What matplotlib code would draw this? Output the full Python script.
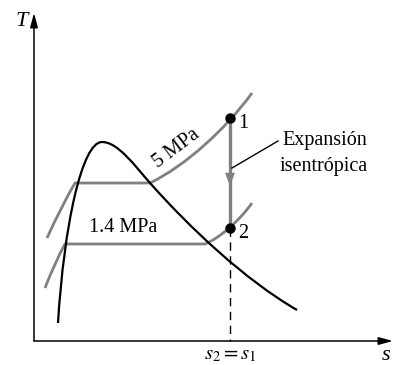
import numpy as np
import matplotlib.pyplot as plt
from matplotlib.patches import FancyArrowPatch, PathPatch
from matplotlib.path import Path

plt.rcParams['font.family'] = ['Liberation Serif', 'DejaVu Serif']
plt.rcParams['mathtext.fontset'] = 'stix'

# Schematic T-s diagram on a 400x365 canvas (y grows downward).
# Curves are given as Bezier vertices (end point, control, control, end point, ...)
dome_s = [58, 64, 82, 102, 118, 135, 150, 190, 245, 297]
dome_T = [323, 225, 142, 142, 142, 166, 183, 228, 280, 310]
dome_codes = ['M', 'C', 'C', 'C', 'C', 'C', 'C', 'C', 'C', 'C']

p5_s = [47, 62, 75, 150, 185, 225, 252]
p5_T = [238, 205, 183, 183, 166, 130, 93]
p5_codes = ['M', 'Q', 'Q', 'L', 'C', 'C', 'C']

p14_s = [45, 55, 65, 205, 220, 240, 252]
p14_T = [288, 262, 244, 244, 238, 220, 203]
p14_codes = ['M', 'Q', 'Q', 'L', 'C', 'C', 'C']

state_s = [230, 230]
state_T = [118, 228]
state_labels = ['1', '2']

gray = '#808080'
code_map = {'M': Path.MOVETO, 'L': Path.LINETO, 'Q': Path.CURVE3, 'C': Path.CURVE4}


def curve(ax, s, T, codes, **kw):
    path = Path(np.column_stack([s, T]), [code_map[c] for c in codes])
    ax.add_patch(PathPatch(path, fill=False, **kw))


fig = plt.figure(figsize=(4.0, 3.65), dpi=100)
ax = fig.add_axes([0, 0, 1, 1])
ax.set_xlim(0, 400)
ax.set_ylim(365, 0)
ax.axis('off')

# axes with arrows
axis_head = '-|>,head_length=0.85,head_width=0.23'
ax.add_patch(FancyArrowPatch((34, 341), (34, 13), arrowstyle=axis_head,
                             mutation_scale=10, lw=1.1, color='black', shrinkA=0, shrinkB=0))
ax.add_patch(FancyArrowPatch((34, 341), (393, 341), arrowstyle=axis_head,
                             mutation_scale=10, lw=1.1, color='black', shrinkA=0, shrinkB=0))
ax.text(22, 21, 'T', fontsize=16, style='italic', ha='center', va='center')
ax.text(386, 356, 's', fontsize=16, style='italic', ha='center', va='center')
ax.text(230, 355, r'$s_2 = s_1$', fontsize=15, ha='center', va='center')

# isobars
curve(ax, p5_s, p5_T, p5_codes, color=gray, lw=2.0, capstyle='butt')
curve(ax, p14_s, p14_T, p14_codes, color=gray, lw=2.0, capstyle='butt')

# saturation dome
curve(ax, dome_s, dome_T, dome_codes, color='black', lw=1.6)

# isentropic expansion 1 -> 2
ax.plot(state_s, state_T, color=gray, lw=2.4)
ax.add_patch(FancyArrowPatch((state_s[0], 165), (state_s[0], 186),
                             arrowstyle='-|>,head_length=0.95,head_width=0.36',
                             mutation_scale=10, lw=0, color=gray, shrinkA=0, shrinkB=0))
ax.plot([state_s[1], state_s[1]], [state_T[1], 341], color='black', lw=1.0,
        linestyle=(0, (6, 4)))
ax.plot(state_s, state_T, 'o', color='black', markersize=6.5, zorder=5)
for s, T, lab in zip(state_s, state_T, state_labels):
    ax.text(s + 8, T + 6, lab, fontsize=14.5, ha='left', va='center')

# labels
ax.text(176, 148, '5 MPa', fontsize=14.5, rotation=37, ha='center', va='center',
        rotation_mode='anchor')
ax.text(123, 228, '1.4 MPa', fontsize=14.5, ha='center', va='center')
ax.plot([232, 278], [168, 141], color='black', lw=1.0)
ax.text(282, 140, 'Expansión', fontsize=14.5, ha='left', va='center')
ax.text(280, 166, 'isentrópica', fontsize=14.5, ha='left', va='center')

fig.savefig('out.png', dpi=100)
